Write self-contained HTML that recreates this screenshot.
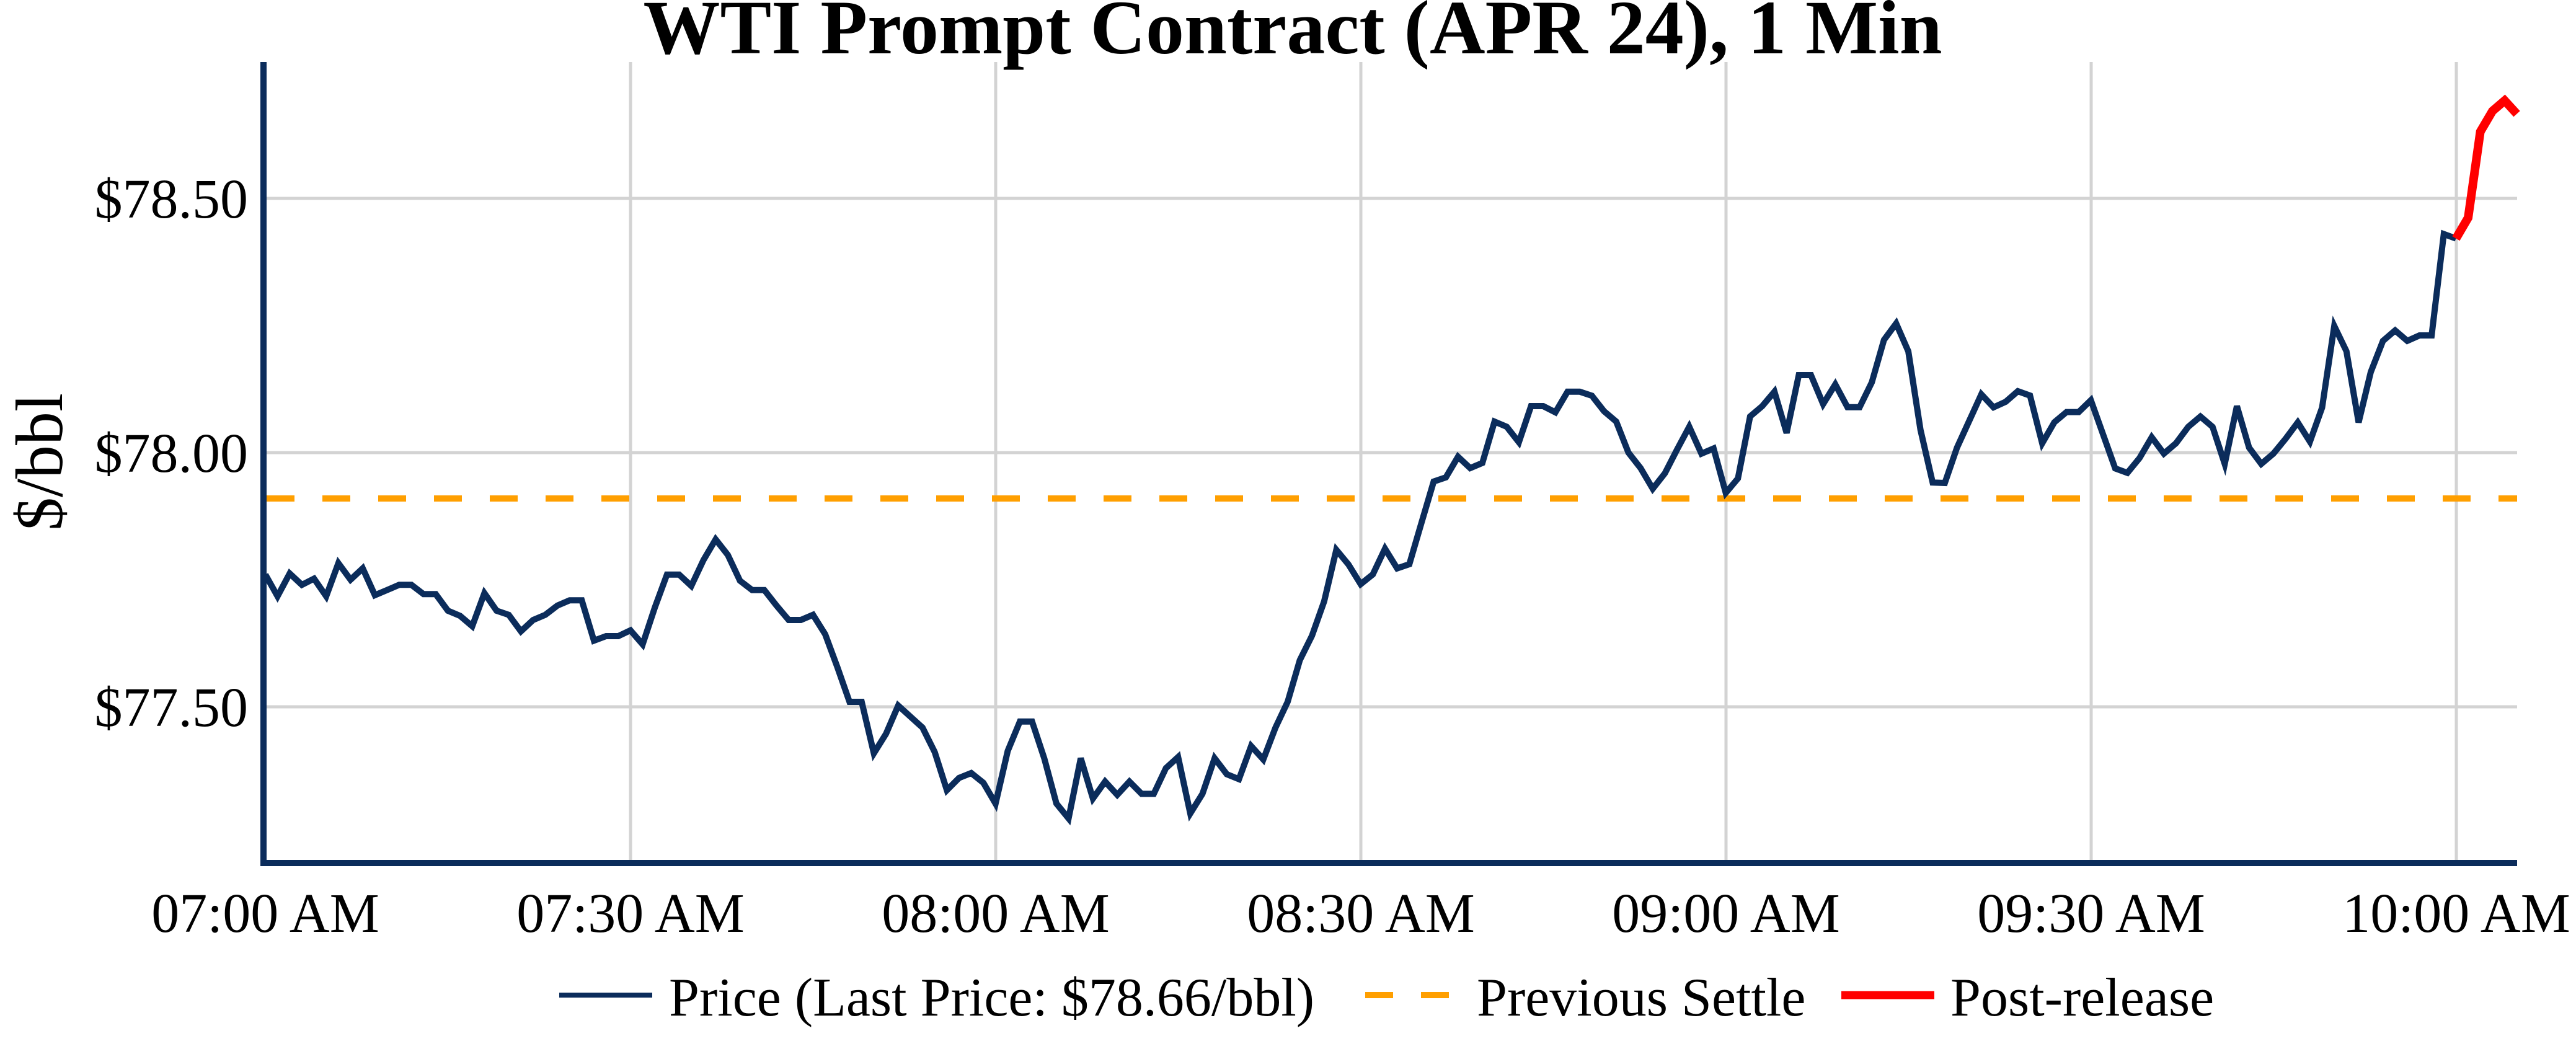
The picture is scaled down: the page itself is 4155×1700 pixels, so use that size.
<!DOCTYPE html>
<html><head><meta charset="utf-8"><style>
html,body{margin:0;padding:0;background:#fff;}
svg{display:block;}
text{font-family:"Liberation Serif","Times New Roman",serif;fill:#000;}
</style></head><body>
<svg width="4155" height="1700" viewBox="0 0 4155 1700" xmlns="http://www.w3.org/2000/svg">
<rect width="4155" height="1700" fill="#fff"/>
<text x="2085" y="86" font-size="124" font-weight="bold" text-anchor="middle">WTI Prompt Contract (APR 24), 1 Min</text>
<g stroke="#d3d3d3" stroke-width="5">
<line x1="430" y1="320" x2="4060" y2="320"/>
<line x1="430" y1="730" x2="4060" y2="730"/>
<line x1="430" y1="1140" x2="4060" y2="1140"/>
<line x1="1017" y1="100" x2="1017" y2="1388"/>
<line x1="1606" y1="100" x2="1606" y2="1388"/>
<line x1="2195" y1="100" x2="2195" y2="1388"/>
<line x1="2784" y1="100" x2="2784" y2="1388"/>
<line x1="3373" y1="100" x2="3373" y2="1388"/>
<line x1="3962" y1="100" x2="3962" y2="1388"/>
</g>
<line x1="430" y1="804" x2="4060" y2="804" stroke="#ff9f00" stroke-width="10" stroke-dasharray="45,45"/>
<polyline fill="none" stroke="#0b2c5b" stroke-width="10" stroke-linejoin="miter" vector-effect="non-scaling-stroke" transform="translate(428,0) scale(19.63,1)" points="0,926.7 1,961.7 2,925 3,943.3 4,933.3 5,961.7 6,908.3 7,935 8,916.7 9,960 10,951.7 11,943.3 12,943.3 13,958.3 14,958.3 15,985 16,993.3 17,1010 18,956.7 19,985 20,991.7 21,1018.3 22,1000 23,991.7 24,976.7 25,968.3 26,968.3 27,1033.3 28,1026 29,1026 30,1016.7 31,1039.3 32,980 33,926.7 34,926.7 35,945 36,903.3 37,870 38,895 39,936.7 40,951.7 41,951.7 42,976.7 43,1000 44,1000 45,991.7 46,1023 47,1076 48,1132 49,1132 50,1215 51,1183.5 52,1138 53,1155.8 54,1173.6 55,1213 56,1274.5 57,1254.7 58,1246.8 59,1262.6 60,1296.2 61,1211.2 62,1163.7 63,1163.7 64,1223 65,1296 66,1320 67,1223 68,1288 69,1260.6 70,1282 71,1260.6 72,1280.4 73,1280.4 74,1238.9 75,1221 76,1312 77,1280.4 78,1223 79,1248.7 80,1256.7 81,1203.3 82,1225 83,1173.6 84,1132 85,1064.8 86,1025.3 87,969.9 88,886.8 89,910.5 90,942.2 91,926.4 92,885 93,916.7 94,910 95,843 96,776.7 97,770 98,736.7 99,755 100,746.7 101,680 102,688.3 103,713.3 104,655 105,655 106,665 107,631.7 108,631.7 109,638.3 110,663.3 111,680 112,730 113,755 114,788.3 115,763.3 116,725 117,688.3 118,731.7 119,723.3 120,795 121,771.7 122,671.7 123,655 124,631.7 125,698.3 126,605 127,605 128,651.7 129,620 130,656.7 131,656.7 132,616.7 133,548.3 134,521.7 135,566.7 136,693.3 137,778.3 138,779 139,722 140,679 141,636 142,657 143,648 144,631 145,638 146,715 147,681 148,664.6 149,664.6 150,645.5 151,700.5 152,755.5 153,762.7 154,738.8 155,705.3 156,731.6 157,714.8 158,688.5 159,671.8 160,688.5 161,748.3 162,655 163,722 164,748.3 165,731.6 166,707.7 167,681.3 168,712.4 169,657.4 170,525.8 171,566.5 172,681.3 173,600 174,549.8 175,533 176,549.8 177,541 178,541 179,377.5 180,384.7"/>
<polyline fill="none" stroke="#ff0000" stroke-width="14" stroke-linejoin="miter" vector-effect="non-scaling-stroke" transform="translate(428,0) scale(19.63,1)" points="180,384.7 181,351.2 182,212.4 183,179 184,162.2 185,183.7"/>
<line x1="425" y1="100" x2="425" y2="1397" stroke="#0b2c5b" stroke-width="10"/>
<line x1="420" y1="1392" x2="4060" y2="1392" stroke="#0b2c5b" stroke-width="10"/>
<g font-size="90" text-anchor="end">
<text x="400" y="351">$78.50</text>
<text x="400" y="761">$78.00</text>
<text x="400" y="1171">$77.50</text>
</g>
<g font-size="90" text-anchor="middle">
<text x="428" y="1503">07:00 AM</text>
<text x="1017" y="1503">07:30 AM</text>
<text x="1606" y="1503">08:00 AM</text>
<text x="2195" y="1503">08:30 AM</text>
<text x="2784" y="1503">09:00 AM</text>
<text x="3373" y="1503">09:30 AM</text>
<text x="3962" y="1503">10:00 AM</text>
</g>
<text transform="translate(100,745) rotate(-90)" font-size="108" text-anchor="middle">$/bbl</text>
<line x1="902" y1="1605" x2="1052" y2="1605" stroke="#0b2c5b" stroke-width="8"/>
<text x="1079" y="1638" font-size="88">Price (Last Price: $78.66/bbl)</text>
<line x1="2202" y1="1605" x2="2352" y2="1605" stroke="#ff9f00" stroke-width="10" stroke-dasharray="45,45"/>
<text x="2382" y="1638" font-size="88">Previous Settle</text>
<line x1="2970" y1="1605" x2="3120" y2="1605" stroke="#ff0000" stroke-width="13"/>
<text x="3146" y="1638" font-size="88">Post-release</text>
</svg>
</body></html>
